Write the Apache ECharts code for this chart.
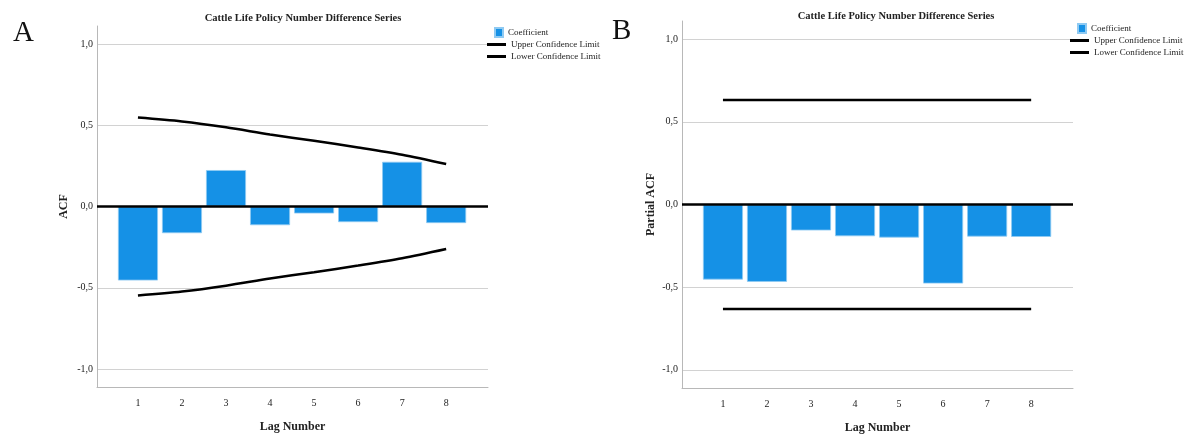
<!DOCTYPE html>
<html>
<head>
<meta charset="utf-8">
<script src="https://cdn.jsdelivr.net/npm/echarts@6/dist/echarts.min.js"></script>
<style>
  html, body { margin: 0; padding: 0; background: #fff; }
  #acf-chart { width: 1186px; height: 438px; }
</style>
</head>
<body>
<div id="acf-chart"></div>
<script>
// lags and coefficients
const lags = [1, 2, 3, 4, 5, 6, 7, 8];
const acfValues = [-0.455, -0.164, 0.224, -0.115, -0.043, -0.096, 0.275, -0.102];
const acfUpper = [0.547, 0.523, 0.487, 0.443, 0.404, 0.363, 0.318, 0.261];
const acfLower = [-0.547, -0.523, -0.487, -0.443, -0.404, -0.363, -0.318, -0.261];
const pacfValues = [-0.454, -0.468, -0.157, -0.192, -0.200, -0.478, -0.194, -0.196];
const pacfUpper = [0.632, 0.632, 0.632, 0.632, 0.632, 0.632, 0.632, 0.632];
const pacfLower = [-0.632, -0.632, -0.632, -0.632, -0.632, -0.632, -0.632, -0.632];
const chartTitle = 'Cattle Life Policy Number Difference Series';

const serif = 'Liberation Serif';
const barColor = '#1591e6';

const pairs = (ys) => lags.map((x, i) => [x, ys[i]]);

function yLabel(v) {
  if (Math.abs(v * 2 - Math.round(v * 2)) > 1e-6) return '';
  return v.toFixed(1).replace('.', ',');
}
function xLabel(v) {
  return (Number.isInteger(v) && v >= 1 && v <= 8) ? String(v) : '';
}

function xAxisFor(idx) {
  return {
    gridIndex: idx,
    type: 'value',
    min: 0.07, max: 8.95,
    minInterval: 1, maxInterval: 1,
    name: 'Lag Number',
    nameLocation: 'middle',
    nameGap: 34,
    nameTextStyle: { fontFamily: serif, fontWeight: 'bold', fontSize: 12, color: '#222' },
    axisLine: { show: true, onZero: false, lineStyle: { color: '#b8b8b8', width: 1 } },
    axisTick: { show: false },
    splitLine: { show: false },
    axisLabel: { formatter: xLabel, fontFamily: serif, fontSize: 10, color: '#222', margin: 11,
                 showMinLabel: false, showMaxLabel: false }
  };
}
function yAxisFor(idx, name, gap) {
  return {
    gridIndex: idx,
    type: 'value',
    min: -1.11, max: 1.11,
    minInterval: 0.5, maxInterval: 0.5,
    name: name,
    nameLocation: 'middle',
    nameGap: gap,
    nameTextStyle: { fontFamily: serif, fontWeight: 'bold', fontSize: 12, color: '#222' },
    axisLine: { show: true, onZero: false, lineStyle: { color: '#b8b8b8', width: 1 } },
    axisTick: { show: false },
    splitLine: { show: true, showMinLine: false, showMaxLine: false,
                 lineStyle: { color: '#d2d2d2', width: 1 } },
    axisLabel: { formatter: yLabel, fontFamily: serif, fontSize: 10, color: '#222', margin: 4,
                 showMinLabel: false, showMaxLabel: false }
  };
}

function barSeries(idx, data) {
  return {
    name: 'Coefficient',
    type: 'bar',
    xAxisIndex: idx, yAxisIndex: idx,
    barWidth: 40,
    data: pairs(data),
    itemStyle: { color: barColor, borderColor: '#8fcaf2', borderWidth: 0.8 },
    markLine: {
      silent: true,
      symbol: 'none',
      label: { show: false },
      lineStyle: { color: '#000', width: 2.5, type: 'solid' },
      data: [{ yAxis: 0 }]
    },
    z: 2
  };
}
function limitSeries(idx, name, data, smooth) {
  return {
    name: name,
    type: 'line',
    xAxisIndex: idx, yAxisIndex: idx,
    data: pairs(data),
    symbol: 'none',
    smooth: smooth,
    lineStyle: { color: '#000', width: 2.5 },
    itemStyle: { color: '#000' },
    z: 3
  };
}

function legendsFor(left, top) {
  const txt = { fontFamily: serif, fontSize: 9, color: '#222' };
  return [
    { data: ['Coefficient'], left: left + 7, top: top, icon: 'rect',
      itemWidth: 8, itemHeight: 9, itemGap: 4, textStyle: txt, padding: 0, selectedMode: false },
    { data: ['Upper Confidence Limit', 'Lower Confidence Limit'], orient: 'vertical',
      left: left, top: top + 13, icon: 'rect', itemWidth: 19, itemHeight: 3, itemGap: 3,
      textStyle: txt, padding: 0, selectedMode: false }
  ];
}

const chart = echarts.init(document.getElementById('acf-chart'), null, { renderer: 'canvas' });
chart.setOption({
  backgroundColor: '#fff',
  animation: false,
  title: [
    { text: chartTitle, left: 298, top: 8, textAlign: 'center',
      textStyle: { fontFamily: serif, fontWeight: 'bold', fontSize: 10.5, color: '#222' } },
    { text: chartTitle, left: 891, top: 6, textAlign: 'center',
      textStyle: { fontFamily: serif, fontWeight: 'bold', fontSize: 10.5, color: '#222' } },
    { text: 'A', left: 8, top: 14, textStyle: { fontFamily: serif, fontWeight: 'normal', fontSize: 29, color: '#111' } },
    { text: 'B', left: 607, top: 12, textStyle: { fontFamily: serif, fontWeight: 'normal', fontSize: 29, color: '#111' } }
  ],
  legend: legendsFor(487, 27).concat(legendsFor(1070, 23)),
  grid: [
    { left: 97, top: 26, width: 391, height: 361, outerBoundsMode: 'none' },
    { left: 682, top: 21, width: 391, height: 367, outerBoundsMode: 'none' }
  ],
  xAxis: [xAxisFor(0), xAxisFor(1)],
  yAxis: [yAxisFor(0, 'ACF', 27), yAxisFor(1, 'Partial ACF', 25)],
  series: [
    barSeries(0, acfValues),
    limitSeries(0, 'Upper Confidence Limit', acfUpper, 0.3),
    limitSeries(0, 'Lower Confidence Limit', acfLower, 0.3),
    barSeries(1, pacfValues),
    limitSeries(1, 'Upper Confidence Limit', pacfUpper, false),
    limitSeries(1, 'Lower Confidence Limit', pacfLower, false)
  ]
});
</script>
</body>
</html>
